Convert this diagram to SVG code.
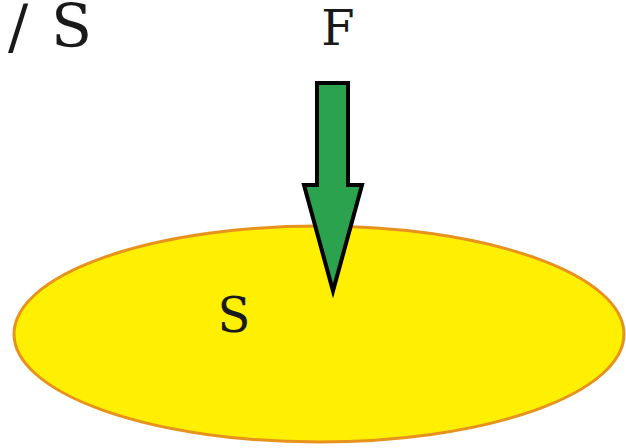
<svg xmlns="http://www.w3.org/2000/svg" width="626" height="448" viewBox="0 0 626 448">
<style>
.t{font-family:'DejaVu Serif','Liberation Serif',serif;fill:#1a1a1a}
</style>
<rect width="626" height="448" fill="#ffffff"/>
<g id="formula"><text class="t" font-size="60" y="47"><tspan x="8">/</tspan><tspan x="51">S</tspan></text></g>
<g id="surface">
<ellipse cx="319" cy="334" rx="305" ry="108" fill="#ffef00" stroke="#e8921e" stroke-width="3"/>
<text class="t" font-size="48" x="234" y="332" text-anchor="middle">S</text>
</g>
<g id="connectors">
<g id="force">
<polygon points="317,83 348,83 348,185 362,185 333,291 304,185 317,185" fill="#2aa24e" stroke="#000" stroke-width="4" stroke-linejoin="miter"/>
</g>
</g>
<g id="force-label"><text class="t" font-size="48" x="338" y="45" text-anchor="middle">F</text></g>
</svg>
